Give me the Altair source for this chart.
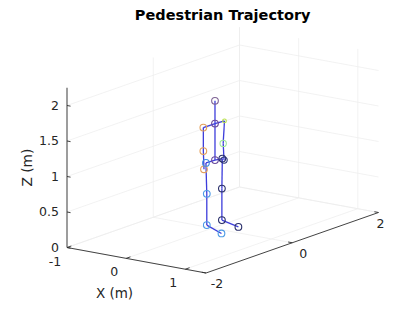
import altair as alt
import pandas as pd

# ---------------- data ----------------
X_LIM = [-1.0, 1.35]
Y_LIM = [-2.0, 2.0]
Z_LIM = [0.0, 2.25]
X_TICKS = [-1, 0, 1]
Y_TICKS = [-2, 0, 2]
Z_TICKS = [0, 0.5, 1, 1.5, 2]
X_TICK_LABELS = ["-1", "0", "1"]
Y_TICK_LABELS = ["-2", "0", "2"]
Z_TICK_LABELS = ["0", "0.5", "1", "1.5", "2"]

JOINTS = ["Head", "Neck", "L Shoulder", "R Shoulder", "L Elbow", "R Elbow",
          "L Wrist", "R Wrist", "Hip", "L Hip", "R Hip", "L Knee", "R Knee",
          "L Ankle", "R Ankle", "L Foot", "R Foot"]
JOINT_X = [0.0, 0.0, 0.0, 0.0, 0.0, 0.0, 0.0, 0.0, 0.0, 0.0, 0.0, 0.0, 0.0,
           0.0, 0.0, 0.27, 0.25]
JOINT_Y = [0.06, 0.06, -0.21, 0.28, -0.21, 0.25, -0.195, 0.27, 0.06, -0.15,
           0.23, -0.13, 0.22, -0.13, 0.22, -0.16, 0.26]
JOINT_Z = [1.78, 1.46, 1.46, 1.45, 1.13, 1.14, 0.87, 0.90, 0.945, 0.95, 0.93,
           0.51, 0.51, 0.07, 0.066, 0.0, 0.0]
JOINT_COLORS = ["#7e6395", "#6b4c9a", "#e4a15c", "#b8e04a", "#e4a15c",
                "#9ee39a", "#e4a15c", "#2c357a", "#6a4c9c", "#3f8fe0",
                "#28306e", "#4c9ae6", "#2a2f6a", "#4c9ae6", "#2a2f6a",
                "#4c9ae6", "#2a2f6a"]
JOINT_SIZES = [45, 45, 45, 14, 45, 40, 45, 40, 45, 45, 45, 45, 45, 45, 45, 45, 45]

BONES_FROM = ["Head", "Neck", "L Shoulder", "Neck", "L Shoulder", "L Elbow",
              "R Shoulder", "R Elbow", "L Hip", "Hip", "L Hip", "L Knee",
              "L Ankle", "R Hip", "R Knee", "R Ankle"]
BONES_TO = ["Neck", "Hip", "Neck", "R Shoulder", "L Elbow", "L Wrist",
            "R Elbow", "R Wrist", "Hip", "R Hip", "L Knee", "L Ankle",
            "L Foot", "R Knee", "R Ankle", "R Foot"]

TITLE = "Pedestrian Trajectory"
X_LABEL = "X (m)"
Z_LABEL = "Z (m)"

# ---------------- view (orthographic camera) ----------------
ORIGIN = (67.0, 247.5)           # screen position of (xmin, ymin, zmin)
EX = (139.0, 25.5)               # screen vector spanning the x range
EY = (172.5, -60.5)              # screen vector spanning the y range
EZ = (0.0, -159.75)              # screen vector spanning the z range


def proj(x, y, z):
    fx = (x - X_LIM[0]) / (X_LIM[1] - X_LIM[0])
    fy = (y - Y_LIM[0]) / (Y_LIM[1] - Y_LIM[0])
    fz = (z - Z_LIM[0]) / (Z_LIM[1] - Z_LIM[0])
    sx = ORIGIN[0] + fx * EX[0] + fy * EY[0] + fz * EZ[0]
    sy = ORIGIN[1] + fx * EX[1] + fy * EY[1] + fz * EZ[1]
    return sx, sy


def seg_df(segs):
    rows = []
    for a, b in segs:
        s1 = proj(*a)
        s2 = proj(*b)
        rows.append({"sx": s1[0], "sy": s1[1], "sx2": s2[0], "sy2": s2[1]})
    return pd.DataFrame(rows)


x0, x1 = X_LIM
y0, y1 = Y_LIM
z0, z1 = Z_LIM

grid = []
for xt in X_TICKS:
    grid.append(((xt, y0, z0), (xt, y1, z0)))
    grid.append(((xt, y1, z0), (xt, y1, z1)))
for yt in Y_TICKS:
    grid.append(((x0, yt, z0), (x1, yt, z0)))
    grid.append(((x0, yt, z0), (x0, yt, z1)))
for zt in Z_TICKS:
    grid.append(((x0, y1, zt), (x1, y1, zt)))
    grid.append(((x0, y0, zt), (x0, y1, zt)))
grid_df = seg_df(grid)

axes_segs = [((x0, y0, z0), (x1, y0, z0)),
             ((x1, y0, z0), (x1, y1, z0)),
             ((x0, y0, z0), (x0, y0, z1))]
for xt in X_TICKS:
    axes_segs.append(((xt, y0, z0), (xt, y0 + 0.1, z0)))
for yt in Y_TICKS:
    axes_segs.append(((x1, yt, z0), (x1 - 0.07, yt, z0)))
for zt in Z_TICKS:
    axes_segs.append(((x0, y0, zt), (x0 + 0.06, y0, zt)))
axes_df = seg_df(axes_segs)

jidx = {n: i for i, n in enumerate(JOINTS)}
bones_df = seg_df([((JOINT_X[jidx[a]], JOINT_Y[jidx[a]], JOINT_Z[jidx[a]]),
                    (JOINT_X[jidx[b]], JOINT_Y[jidx[b]], JOINT_Z[jidx[b]]))
                   for a, b in zip(BONES_FROM, BONES_TO)])

jp = [proj(x, y, z) for x, y, z in zip(JOINT_X, JOINT_Y, JOINT_Z)]
joints_df = pd.DataFrame({"joint": JOINTS,
                          "sx": [p[0] for p in jp], "sy": [p[1] for p in jp],
                          "color": JOINT_COLORS, "size": JOINT_SIZES})


def label_df(points, labels):
    ps = [proj(*p) for p in points]
    return pd.DataFrame({"sx": [p[0] for p in ps], "sy": [p[1] for p in ps],
                         "label": labels})


xlab_df = label_df([(t, y0, z0) for t in X_TICKS], X_TICK_LABELS)
ylab_df = label_df([(x1, t, z0) for t in Y_TICKS], Y_TICK_LABELS)
zlab_df = label_df([(x0, y0, t) for t in Z_TICKS], Z_TICK_LABELS)
xtitle_df = label_df([((x0 + x1) / 2, y0, z0)], [X_LABEL])
ztitle_df = label_df([(x0, y0, (z0 + z1) / 2)], [Z_LABEL])

# ---------------- chart ----------------
XS = alt.Scale(domain=[8, 385], nice=False, zero=False)
YS = alt.Scale(domain=[8, 301], nice=False, zero=False, reverse=True)
FONT = "DejaVu Sans"


def pos(chart):
    return chart.encode(x=alt.X("sx:Q", scale=XS, axis=None),
                        y=alt.Y("sy:Q", scale=YS, axis=None))


def segs(df, color, width):
    return alt.Chart(df).mark_rule(color=color, strokeWidth=width).encode(
        x=alt.X("sx:Q", scale=XS, axis=None),
        y=alt.Y("sy:Q", scale=YS, axis=None),
        x2="sx2:Q", y2="sy2:Q")


grid_layer = segs(grid_df, "#ededed", 0.7)
axes_layer = segs(axes_df, "#2e2e2e", 0.9)
bones_layer = segs(bones_df, "#3d3ddb", 1.3)

joints_layer = pos(alt.Chart(joints_df).mark_point(
    shape="circle", filled=False, strokeWidth=1.1, opacity=1)).encode(
    color=alt.Color("color:N", scale=None),
    size=alt.Size("size:Q", scale=None))

TICK_FS = 12.5
xlab = pos(alt.Chart(xlab_df).mark_text(font=FONT, fontSize=TICK_FS,
                                          color="#262626", align="center",
                                          baseline="middle", dx=-12, dy=14)).encode(text="label:N")
# y tick labels: kept inside the drawing area at the right edge
ylab = alt.Chart(ylab_df).transform_calculate(
    lx="min(datum.sx + 11, 380.5)").mark_text(
    font=FONT, fontSize=TICK_FS, color="#262626", align="center",
    baseline="middle", dy=11).encode(
    x=alt.X("lx:Q", scale=XS, axis=None),
    y=alt.Y("sy:Q", scale=YS, axis=None),
    text="label:N")
zlab = pos(alt.Chart(zlab_df).mark_text(font=FONT, fontSize=TICK_FS,
                                          color="#262626", align="right",
                                          baseline="middle", dx=-8, dy=0)).encode(text="label:N")
xtitle = pos(alt.Chart(xtitle_df).mark_text(font=FONT, fontSize=13.5,
                                              color="#262626", align="center",
                                              baseline="middle", dx=-22, dy=34)).encode(text="label:N")
ztitle = alt.Chart(ztitle_df).transform_calculate(
    lx="datum.sx - 39").mark_text(font=FONT, fontSize=13.75, color="#262626",
                                   align="center", baseline="middle",
                                   angle=270).encode(
    x=alt.X("lx:Q", scale=XS, axis=None),
    y=alt.Y("sy:Q", scale=YS, axis=None),
    text="label:N")
title = alt.Chart(pd.DataFrame({"label": [TITLE]})).mark_text(
    font=FONT, fontSize=14.5, fontWeight="bold", color="#000000",
    align="center", baseline="middle").encode(
    x=alt.value(214.7), y=alt.value(8), text="label:N")

chart = alt.layer(grid_layer, axes_layer, bones_layer, joints_layer,
                  xlab, ylab, zlab, xtitle, ztitle, title).properties(
    width=377, height=293,
    padding={"left": 0, "top": 0, "right": 0, "bottom": 0},
    autosize=alt.AutoSizeParams(type="none"),
    background="white",
).configure_view(stroke=None)

chart.save("out.html", embed_options={"renderer": "svg", "actions": False})
